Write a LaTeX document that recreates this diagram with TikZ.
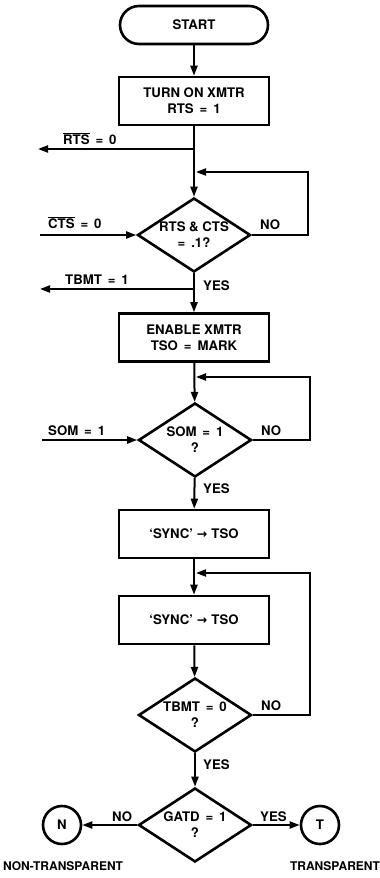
\documentclass[tikz,border=0pt]{standalone}
\usepackage{fontspec}
\setmainfont{TeX Gyre Heros}
\newfontfamily\dejavu{DejaVu Sans}
\usetikzlibrary{shapes.geometric,arrows.meta}
\newcommand{\myeq}{\hspace{0.45em}=\hspace{0.45em}}
\newcommand{\myarrow}{\hspace{0.3em}{\dejavu\fontsize{12.5}{14}\selectfont\bfseries →}\hspace{0.3em}}
\begin{document}
\begin{tikzpicture}[x=1pt,y=-1pt,
  font=\fontsize{13.2}{16}\selectfont\bfseries,
  box/.style={draw, line width=2.6pt, minimum width=150pt, minimum height=48pt, align=center, inner sep=0pt},
  term/.style={draw, line width=2.6pt, rounded corners=19pt, minimum width=148pt, minimum height=38pt, inner sep=0pt},
  dec/.style={draw, diamond, aspect=1.52, minimum width=113pt, minimum height=74pt, line width=2.6pt, align=center, inner sep=0pt},
  conn/.style={draw, circle, line width=2.6pt, minimum size=38pt, inner sep=0pt},
  arr/.style={line width=2pt, -{Triangle[length=10pt,width=7pt]}},
  lbl/.style={inner sep=0pt, anchor=base west},
  captxt/.style={inner sep=0pt, anchor=base, font=\fontsize{12}{14}\selectfont\bfseries}]
\useasboundingbox (0,0) rectangle (380,878);
% nodes
\node[term] (start) at (194,25) {START};
\node[box] (b1) at (194,101) {TURN ON XMTR\\RTS\myeq 1};
\node[dec] (d1) at (194,235) {RTS \& CTS\\=\hspace{0.45em}.1?};
\node[box] (b2) at (194,337.5) {ENABLE XMTR\\TSO\myeq MARK};
\node[dec] (d2) at (195,440) {SOM\myeq 1\\?};
\node[box] (b3) at (194,534) {‘SYNC’\myarrow TSO};
\node[box] (b4) at (194,620) {‘SYNC’\myarrow TSO};
\node[dec] (d3) at (195,715) {TBMT\myeq 0\\?};
\node[dec] (d4) at (195,825) {GATD\myeq 1\\?};
\node[conn] (N) at (62,825) {N};
\node[conn] (T) at (320,825) {T};
% coordinates
\coordinate (j1) at (194,149);
\coordinate (rtsend) at (38,149);
\coordinate (j2) at (196,172);
\coordinate (r1) at (308,235);
\coordinate (ctsstart) at (40,235);
\coordinate (j3) at (194,289);
\coordinate (tbmtend) at (40,289);
\coordinate (j4) at (196,377);
\coordinate (r2) at (310,440);
\coordinate (somstart) at (42,440);
\coordinate (j5) at (196,573);
\coordinate (r3) at (310,715);
% connectors
\draw[arr] (start) -- (b1);
\draw[arr] (b1) -- (d1);
\draw[arr] (j1) -- (rtsend);
\draw[arr] (d1.east) -- (r1) |- (j2);
\draw[arr] (ctsstart) -- (d1.west);
\draw[arr] (d1) -- (b2);
\draw[arr] (j3) -- (tbmtend);
\draw[arr] (b2) -- (d2);
\draw[arr] (d2.east) -- (r2) |- (j4);
\draw[arr] (somstart) -- (d2.west);
\draw[arr] (d2) -- (b3);
\draw[arr] (b3) -- (b4);
\draw[arr] (d3.east) -- (r3) |- (j5);
\draw[arr] (b4) -- (d3);
\draw[arr] (d3) -- (d4);
\draw[arr] (d4.west) -- (N);
\draw[arr] (d4.east) -- (T);
% labels
\node[lbl] (l1) at (63,144) {$\overline{\mbox{RTS}}$\myeq 0};
\node[lbl] (l2) at (48,228) {$\overline{\mbox{CTS}}$\myeq 0};
\node[lbl] (l3) at (260,229) {NO};
\node[lbl] (l4) at (65,284) {TBMT\myeq 1};
\node[lbl] (l5) at (203,290) {YES};
\node[lbl] (l6) at (48,435) {SOM\myeq 1};
\node[lbl] (l7) at (261,435) {NO};
\node[lbl] (l8) at (203,493) {YES};
\node[lbl] (l9) at (261,710) {NO};
\node[lbl] (l10) at (203,769) {YES};
\node[lbl] (l11) at (112,821) {NO};
\node[lbl] (l12) at (260,821) {YES};
\node[captxt] (c1) at (63,870) {NON-TRANSPARENT};
\node[captxt] (c2) at (335,870) {TRANSPARENT};
\end{tikzpicture}
\end{document}
